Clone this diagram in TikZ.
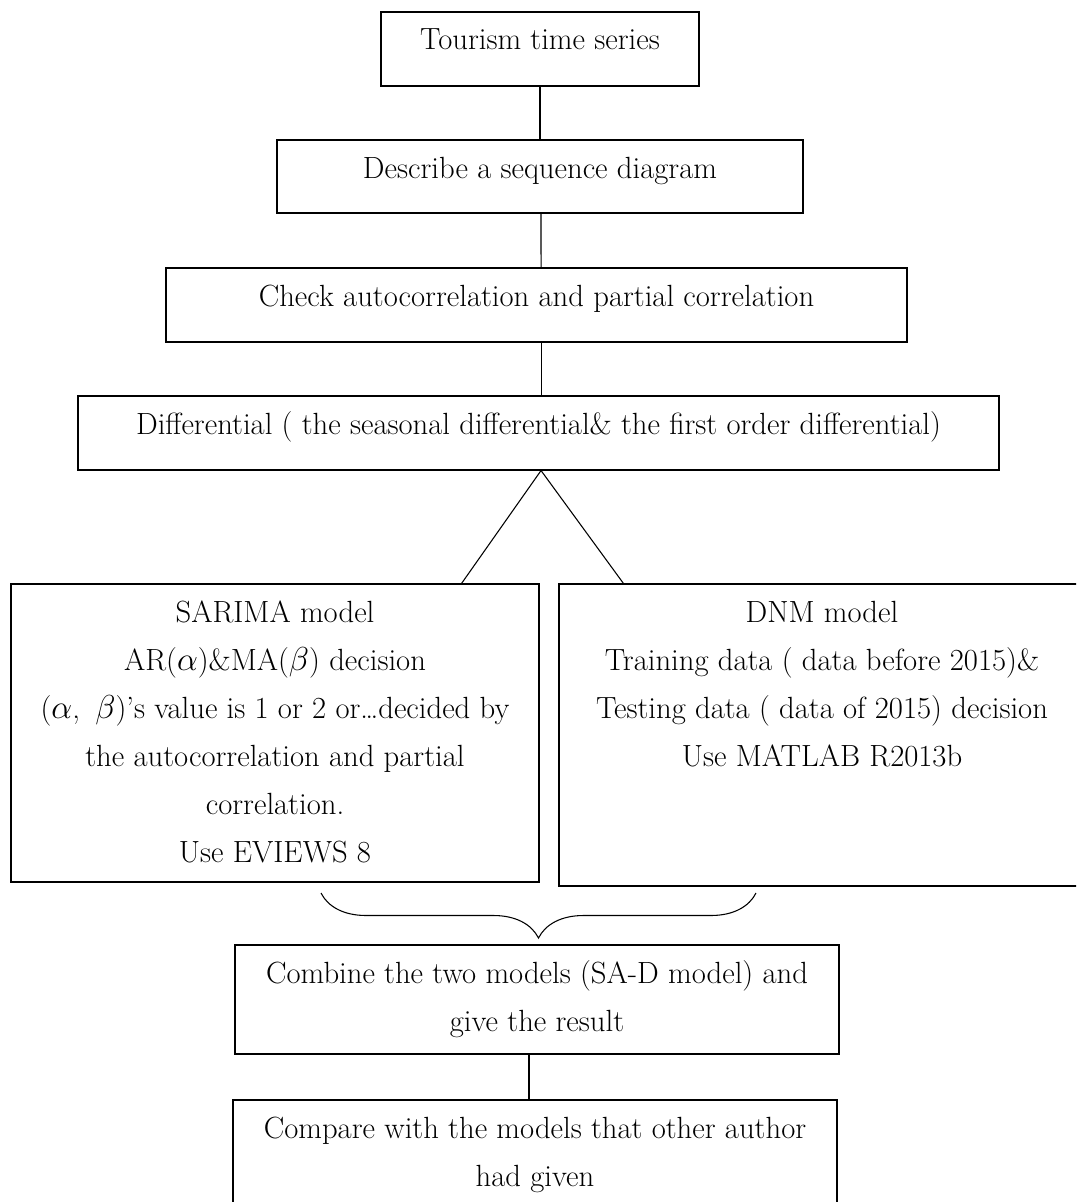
\documentclass[tikz,border=0pt]{standalone}
\usepackage{amsmath}
\usepackage{tikz}
\usetikzlibrary{positioning,decorations.pathreplacing}

\begin{document}
\begin{tikzpicture}[
    x=0.75pt, y=-0.75pt,
    font=\fontsize{23pt}{36pt}\selectfont,
    line width=0.8pt,
    stage/.style={
		rectangle,
		draw=black,
		inner xsep=0pt,
		inner ysep=3.3pt,
		fill=white
	},
	link/.style={
		draw=black,
		line width=0.8pt
	}
  ]

\useasboundingbox (0,0) rectangle (1076,1202);
\clip (0,0) rectangle (1076,1202);

% // the chain of steps
\node [stage] (series) at (540,49)
 {\parbox[t][48.9pt][t]{238.5pt}{\centering\strut Tourism time series}};
\node [stage] (describe) at (540,176.5)
 {\parbox[t][48.15pt][t]{394.5pt}{\centering\strut Describe a sequence diagram}};
\node [stage] (check) at (536.5,305)
 {\parbox[t][48.9pt][t]{555.75pt}{\centering\strut Check autocorrelation and partial correlation}};
\node [stage] (diff) at (538.5,433)
 {\parbox[t][48.9pt][t]{690.75pt}{\centering\strut Differential ( the seasonal differential\& the first order differential)}};

% // the two models
\node [stage] (sarima) at (275,733)
 {%
 \parbox[t][216.9pt][t]{396pt}{\centering\strut
  SARIMA model\\
  AR($\alpha$)\&MA($\beta$) decision\\
  ($\alpha$,\enspace$\beta$)'s value is 1 or 2 or\ldots decided by\\
  the autocorrelation and partial\\
  correlation.\\
  Use EVIEWS 8}
 };
\node [stage] (dnm) at (822,735)
 {%
 \parbox[t][219.9pt][t]{394.5pt}{\centering\strut
  DNM model\\
  Training data ( data before 2015)\&\\
  Testing data ( data of 2015) decision\\
  Use MATLAB R2013b}
 };

% // result and comparison
\node [stage] (combine) at (537,999.5)
 {%
 \parbox[t][75.15pt][t]{453pt}{\centering\strut
  Combine the two models (SA-D model) and\\
  give the result}
 };
\node [stage] (compare) at (535,1155)
 {%
 \parbox[t][75.9pt][t]{453pt}{\centering\strut
  Compare with the models that other author\\
  had given}
 };

\draw [link] (series) -- (describe);
\draw [link] ([xshift=0.75pt]describe.south) -- ([xshift=3.4pt]check.north);
\draw [link] ([xshift=3.4pt]check.south) -- ([xshift=1.9pt]diff.north);
\draw [link] ([xshift=1.9pt]diff.south) -- ([xshift=-58.5pt]sarima.north east);
\draw [link] ([xshift=1.9pt]diff.south) -- ([xshift=48.75pt]dnm.north west);

% // the brace joining both models
\coordinate (brace l) at (321,893);
\coordinate (brace r) at (756,893);
\draw [link, decorate, decoration={brace, mirror, amplitude=33.75pt}] (brace l) -- (brace r);

\draw [link] ([xshift=-6pt]combine.south) -- ([xshift=-4.5pt]compare.north);

\end{tikzpicture}
\end{document}
